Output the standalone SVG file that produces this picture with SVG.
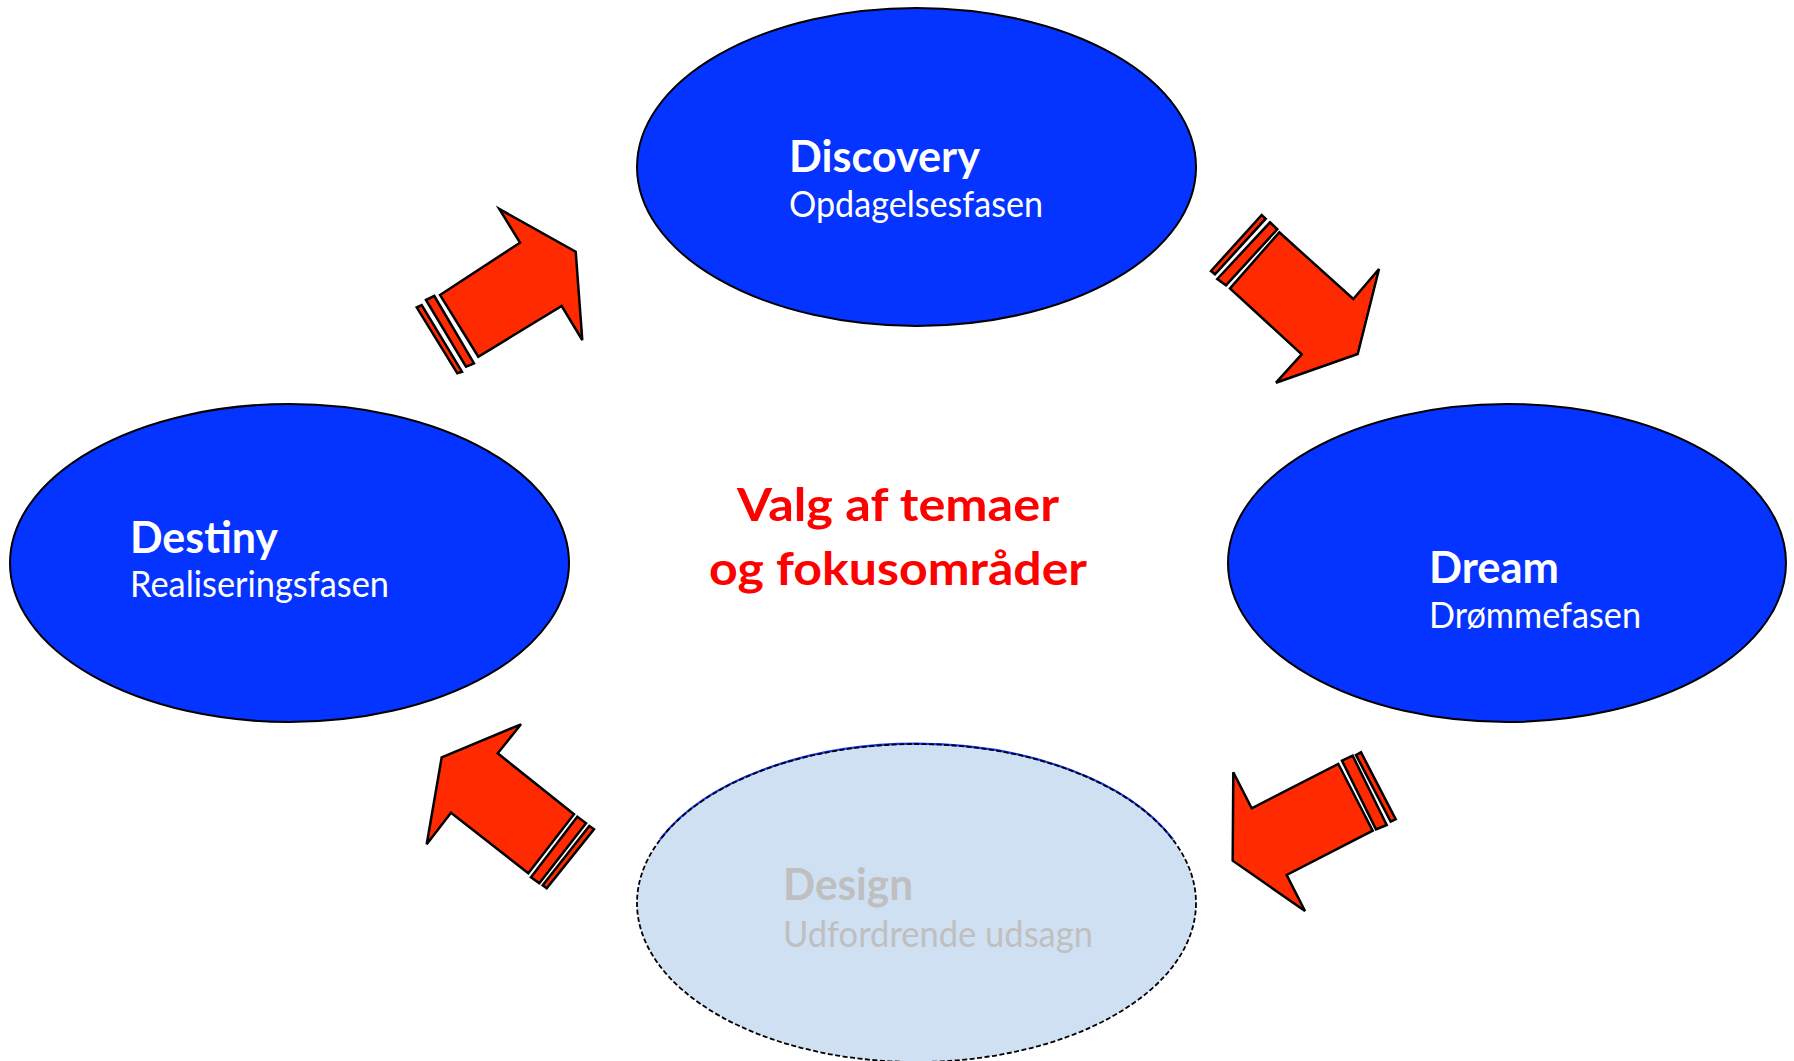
<svg xmlns="http://www.w3.org/2000/svg" width="1794" height="1061" viewBox="0 0 1794 1061">
<style>
.phase{fill:#0533FF;stroke:#000;stroke-width:2}
.title{font-family:Lato,"Liberation Sans",sans-serif;font-weight:bold;font-size:44px;fill:#fff}
.sub{font-family:Lato,"Liberation Sans",sans-serif;font-size:36px;fill:#fff}
.arrow{fill:#FF2A00;stroke:#000;stroke-width:2.5;stroke-linejoin:miter}
.center{font-family:Lato,"Liberation Sans",sans-serif;font-weight:bold;font-size:46px;fill:#FF0000}
</style>
<rect width="1794" height="1061" fill="#fff"/>
<g id="discovery">
<ellipse class="phase" cx="916.5" cy="167" rx="279.5" ry="159"/>
<text class="title" x="789" y="172" textLength="191" lengthAdjust="spacingAndGlyphs">Discovery</text>
<text class="sub" x="789" y="217" textLength="254" lengthAdjust="spacingAndGlyphs">Opdagelsesfasen</text>
</g>
<g id="dream">
<ellipse class="phase" cx="1507" cy="563" rx="279" ry="159"/>
<text class="title" x="1429" y="583" textLength="130" lengthAdjust="spacingAndGlyphs">Dream</text>
<text class="sub" x="1429" y="628" textLength="212" lengthAdjust="spacingAndGlyphs">Drømmefasen</text>
</g>
<g id="destiny">
<ellipse class="phase" cx="289.5" cy="563" rx="279.5" ry="159"/>
<text class="title" x="130" y="553" textLength="148" lengthAdjust="spacingAndGlyphs">Destiny</text>
<text class="sub" x="130" y="597" textLength="259" lengthAdjust="spacingAndGlyphs">Realiseringsfasen</text>
</g>
<g id="design">
<ellipse cx="916.5" cy="903" rx="279.5" ry="159" fill="#CFE0F3"/>
<path d="M 660 839.5 A 279.5 159 0 0 1 1173 839.5" fill="none" stroke="#1A3CFF" stroke-width="2.2"/>
<ellipse cx="916.5" cy="903" rx="279.5" ry="159" fill="none" stroke="#000" stroke-width="1.8" stroke-dasharray="5 2.5"/>
<text class="title" x="783" y="900" textLength="130" lengthAdjust="spacingAndGlyphs" style="fill:#BFBFBF">Design</text>
<text class="sub" x="783" y="947" textLength="310" lengthAdjust="spacingAndGlyphs" style="fill:#BFBFBF">Udfordrende udsagn</text>
</g>
<g id="center-label">
<text class="center" x="898" y="521" text-anchor="middle" textLength="322" lengthAdjust="spacingAndGlyphs">Valg af temaer</text>
<text class="center" x="898" y="585" text-anchor="middle" textLength="378" lengthAdjust="spacingAndGlyphs">og fokusområder</text>
</g>
<g id="connectors">
<g id="arrow-destiny-discovery">
<polygon class="arrow" points="440,295 520,242.7 499.3,209 575.7,251.7 582.3,340 561.7,306 478.3,356.7"/>
<polygon class="arrow" points="426,300 434.3,296 474,363.3 466,366.7"/>
<polygon class="arrow" points="416.7,307.3 421.7,305 462,371.7 457.3,373.3"/>
</g>
<g id="arrow-discovery-dream">
<polygon class="arrow" points="1279.3,232.3 1353.3,299 1379,269 1357.7,354 1276,382.7 1301.7,354.3 1230,288.3"/>
<polygon class="arrow" points="1217.3,279 1270,222.3 1277.3,229.3 1226,285.3"/>
<polygon class="arrow" points="1211,271 1261.7,215 1265.7,218.7 1215,274.3"/>
</g>
<g id="arrow-dream-design">
<polygon class="arrow" points="1338.3,764 1372.7,830.7 1286.7,875 1305,911 1232.7,860.7 1233.3,772.3 1251.7,808.3"/>
<polygon class="arrow" points="1342,760.7 1352.7,755.7 1386.7,825 1376,829.3"/>
<polygon class="arrow" points="1356,755 1361,752.3 1395.7,819.3 1390.7,821.7"/>
</g>
<g id="arrow-design-destiny">
<polygon class="arrow" points="521,724.3 497.7,753.3 574,814.3 528.3,873.3 451,812.7 426.7,844.3 441.7,757.3"/>
<polygon class="arrow" points="577.3,816.7 586,823.3 539.3,883.3 531,877.3"/>
<polygon class="arrow" points="589.3,826 594,829.3 546.7,888.3 542.7,885.3"/>
</g>
</g>
</svg>
